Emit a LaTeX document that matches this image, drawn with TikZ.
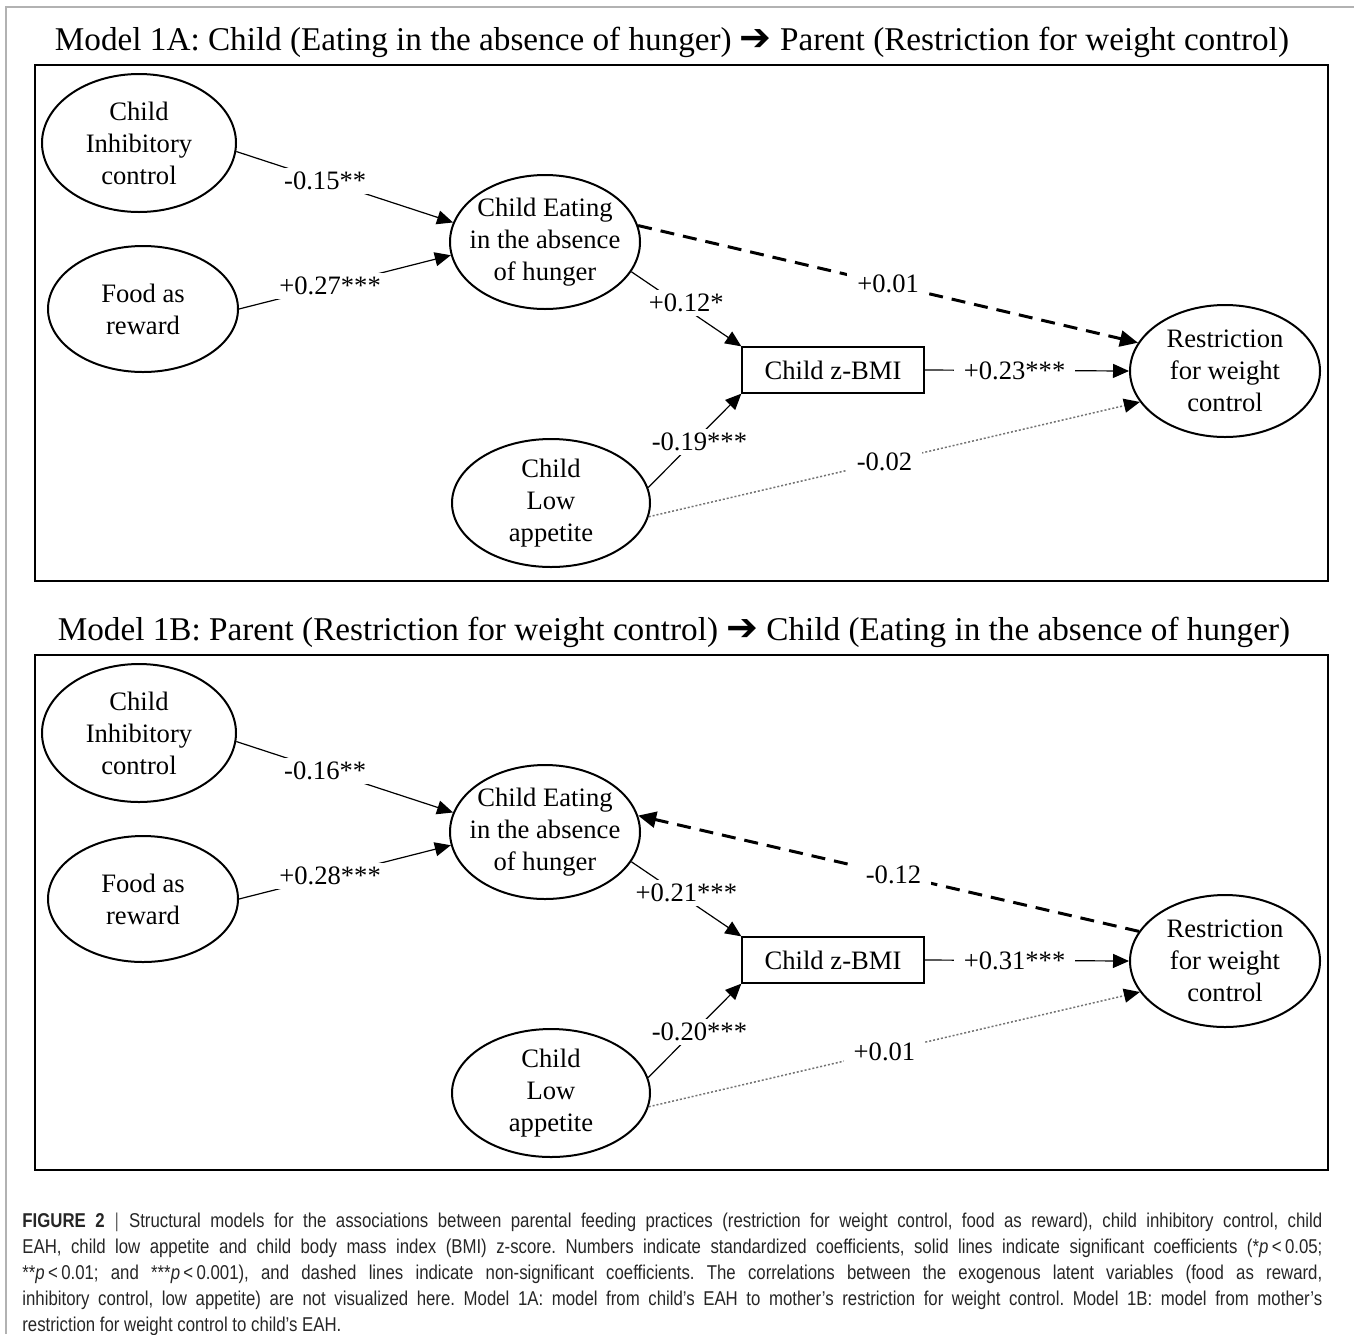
\documentclass[tikz,border=0pt]{standalone}
\usepackage{fontspec}
\setmainfont{Liberation Serif}
\newfontfamily\capfont[FakeStretch=0.84]{Liberation Sans}
\newfontfamily\arrowfont{DejaVu Sans}
\usetikzlibrary{shapes.geometric,arrows.meta}
\newcommand\ndfont{\fontsize{13.3}{16}\selectfont}
\newcommand\ttlfont{\fontsize{16.6}{20}\selectfont}
\newcommand\ttlarrow{{\arrowfont\fontsize{19}{20}\selectfont ➔}}
\begin{document}
\begin{tikzpicture}[x=0.5pt,y=-0.5pt,
  lat/.style={ellipse,draw,line width=1pt,inner xsep=-20pt,inner ysep=-6pt,align=center,font=\ndfont},
  obs/.style={rectangle,draw,line width=0.65pt,minimum width=91pt,minimum height=23pt,inner sep=0pt,font=\ndfont},
  frame/.style={draw,line width=1.1pt},
  ttl/.style={font=\ttlfont,inner sep=0pt},
  lbl/.style={fill=white,text=black,inner xsep=5pt,inner ysep=2pt,font=\ndfont},
  sol/.style={line width=0.6pt,-{Triangle[length=8pt,width=7pt]}},
  dsh/.style={line width=1.5pt,dash pattern=on 7pt off 4.5pt,-{Triangle[length=9pt,width=8pt]}},
  dtd/.style={line width=0.75pt,black!55,dash pattern=on 1pt off 1pt,-{Triangle[length=8pt,width=7pt,color=black]}}]
\useasboundingbox (0,0) rectangle (1354,1334);
\draw[gray!60,line width=0.6pt] (6,1334) -- (6,7) -- (1354,7);

% ---------------- Model 1A ----------------
\node[ttl] (ta) at (672,42) {Model 1A: Child (Eating in the absence of hunger) \ttlarrow{} Parent (Restriction for weight control)};
\node[frame,minimum width=646.5pt,minimum height=258pt,inner sep=0pt] (fa) at (681.5,323) {};
\node[lat,minimum width=97pt,minimum height=69pt] (ainh) at (139,143) {Child\\Inhibitory\\control};
\node[lat,minimum width=95pt,minimum height=63pt] (afood) at (143,309) {Food as\\reward};
\node[lat,minimum width=95pt,minimum height=67pt] (aeah) at (545,242) {Child Eating\\in the absence\\of hunger};
\node[obs] (abmi) at (833,370) {Child z-BMI};
\node[lat,minimum width=95pt,minimum height=66pt] (ares) at (1225,371) {Restriction\\for weight\\control};
\node[lat,minimum width=99pt,minimum height=64pt] (alow) at (551,503) {Child\\Low\\appetite};

\draw[sol] (ainh.-5) -- node[lbl,pos=0.41] (la1) {-0.15**} (aeah.168);
\draw[sol] (afood.0) -- node[lbl,pos=0.43] (la2) {+0.27***} (aeah.188);
\draw[sol] (aeah.-19) -- node[lbl,pos=0.5,yshift=3pt] (la3) {+0.12*} (abmi.north west);
\draw[dsh] (aeah.10) -- node[lbl,pos=0.5] (la4) {+0.01} (ares.162);
\draw[sol] (abmi.east) -- node[lbl,pos=0.44] (la5) {+0.23***} (ares.180);
\draw[sol] (alow.9) -- node[lbl,pos=0.55,yshift=-3pt] (la6) {-0.19***} (abmi.south west);
\draw[dtd] (alow.-8) -- node[lbl,pos=0.48] (la7) {-0.02} (ares.200);

% ---------------- Model 1B ----------------
\begin{scope}[yshift=-295pt]
\node[ttl] (tb) at (674,42) {Model 1B: Parent (Restriction for weight control) \ttlarrow{} Child (Eating in the absence of hunger)};
\node[frame,minimum width=646.5pt,minimum height=257.5pt,inner sep=0pt] (fb) at (681.5,322.5) {};
\node[lat,minimum width=97pt,minimum height=69pt] (binh) at (139,143) {Child\\Inhibitory\\control};
\node[lat,minimum width=95pt,minimum height=63pt] (bfood) at (143,309) {Food as\\reward};
\node[lat,minimum width=95pt,minimum height=67pt] (beah) at (545,242) {Child Eating\\in the absence\\of hunger};
\node[obs] (bbmi) at (833,370) {Child z-BMI};
\node[lat,minimum width=95pt,minimum height=66pt] (bres) at (1225,371) {Restriction\\for weight\\control};
\node[lat,minimum width=99pt,minimum height=64pt] (blow) at (551,503) {Child\\Low\\appetite};

\draw[sol] (binh.-5) -- node[lbl,pos=0.41] (lb1) {-0.16**} (beah.168);
\draw[sol] (bfood.0) -- node[lbl,pos=0.43] (lb2) {+0.28***} (beah.188);
\draw[sol] (beah.-19) -- node[lbl,pos=0.5,yshift=3pt] (lb3) {+0.21***} (bbmi.north west);
\draw[dsh] (bres.161) -- node[lbl,pos=0.49] (lb4) {-0.12} (beah.10);
\draw[sol] (bbmi.east) -- node[lbl,pos=0.44] (lb5) {+0.31***} (bres.180);
\draw[sol] (blow.9) -- node[lbl,pos=0.55,yshift=-3pt] (lb6) {-0.20***} (bbmi.south west);
\draw[dtd] (blow.-8) -- node[lbl,pos=0.48] (lb7) {+0.01} (bres.200);
\end{scope}

% ---------------- Caption ----------------
\node[anchor=north west,inner sep=0pt,text width=650pt,align=justify,
      font=\capfont\fontsize{10}{13}\selectfont\frenchspacing,text=black!85] (cap) at (22,1213)
{\textbf{FIGURE 2}\enspace{\color{black!60}|}\enspace Structural models for the associations between parental feeding practices (restriction for weight control, food as reward), child inhibitory control, child\linebreak
EAH, child low appetite and child body mass index (BMI) z-score. Numbers indicate standardized coefficients, solid lines indicate significant coefficients (*\textit{p}\,<\,0.05;\linebreak
**\textit{p}\,<\,0.01; and ***\textit{p}\,<\,0.001), and dashed lines indicate non-significant coefficients. The correlations between the exogenous latent variables (food as reward,\linebreak
inhibitory control, low appetite) are not visualized here. Model 1A: model from child’s EAH to mother’s restriction for weight control. Model 1B: model from mother’s\linebreak
restriction for weight control to child’s EAH.};
\end{tikzpicture}
\end{document}
